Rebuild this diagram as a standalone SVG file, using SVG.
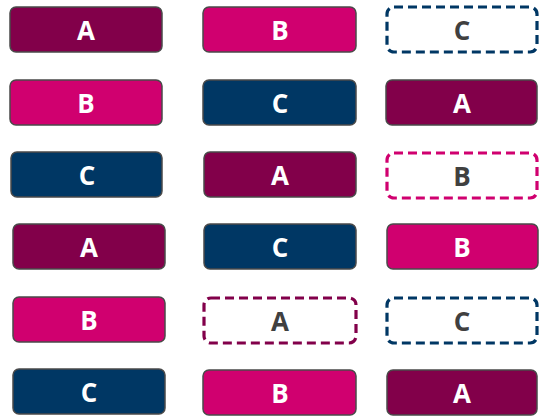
<svg xmlns="http://www.w3.org/2000/svg" width="539" height="417" viewBox="0 0 539 417">
<style>
rect.s{stroke:#4a4a4a;stroke-width:1.5}
.a{fill:#82004a}.b{fill:#d0006f}.c{fill:#003764}
rect.d{fill:#fff;stroke-width:3.2;stroke-dasharray:9 5}
.da{stroke:#82004a}.db{stroke:#d0006f}.dc{stroke:#003764}
text{font-family:"Open Sans","DejaVu Sans",sans-serif;font-weight:bold;font-size:26px;text-anchor:middle;dominant-baseline:central}
.w{fill:#fff}.g{fill:#404040}
</style>
<g id="r1c1"><rect class="s a" x="10" y="7" width="152" height="45" rx="6"/><text class="w" x="86" y="30">A</text></g>
<g id="r1c2"><rect class="s b" x="203" y="7" width="153" height="45" rx="6"/><text class="w" x="280" y="30">B</text></g>
<g id="r1c3"><rect class="d dc" x="387" y="7" width="150" height="45" rx="7"/><text class="g" x="462" y="30">C</text></g>
<g id="r2c1"><rect class="s b" x="10" y="80" width="152" height="45" rx="6"/><text class="w" x="86" y="103">B</text></g>
<g id="r2c2"><rect class="s c" x="203" y="80" width="153" height="45" rx="6"/><text class="w" x="280" y="103">C</text></g>
<g id="r2c3"><rect class="s a" x="386" y="80" width="151" height="45" rx="6"/><text class="w" x="462" y="103">A</text></g>
<g id="r3c1"><rect class="s c" x="11" y="152" width="151" height="45" rx="6"/><text class="w" x="87" y="175">C</text></g>
<g id="r3c2"><rect class="s a" x="204" y="152" width="152" height="45" rx="6"/><text class="w" x="280" y="175">A</text></g>
<g id="r3c3"><rect class="d db" x="387" y="153" width="150" height="45" rx="7"/><text class="g" x="462" y="176">B</text></g>
<g id="r4c1"><rect class="s a" x="13" y="224" width="152" height="45" rx="6"/><text class="w" x="89" y="247">A</text></g>
<g id="r4c2"><rect class="s c" x="204" y="224" width="152" height="45" rx="6"/><text class="w" x="280" y="247">C</text></g>
<g id="r4c3"><rect class="s b" x="387" y="224" width="151" height="45" rx="6"/><text class="w" x="462" y="247">B</text></g>
<g id="r5c1"><rect class="s b" x="13" y="297" width="152" height="45" rx="6"/><text class="w" x="89" y="320">B</text></g>
<g id="r5c2"><rect class="d da" x="204" y="298" width="152" height="45" rx="7"/><text class="g" x="280" y="321">A</text></g>
<g id="r5c3"><rect class="d dc" x="387" y="298" width="150" height="45" rx="7"/><text class="g" x="462" y="321">C</text></g>
<g id="r6c1"><rect class="s c" x="13" y="369" width="152" height="45" rx="6"/><text class="w" x="89" y="392">C</text></g>
<g id="r6c2"><rect class="s b" x="203" y="370" width="153" height="45" rx="6"/><text class="w" x="280" y="393">B</text></g>
<g id="r6c3"><rect class="s a" x="387" y="370" width="150" height="45" rx="6"/><text class="w" x="462" y="393">A</text></g>
<g id="connectors"/>
</svg>
